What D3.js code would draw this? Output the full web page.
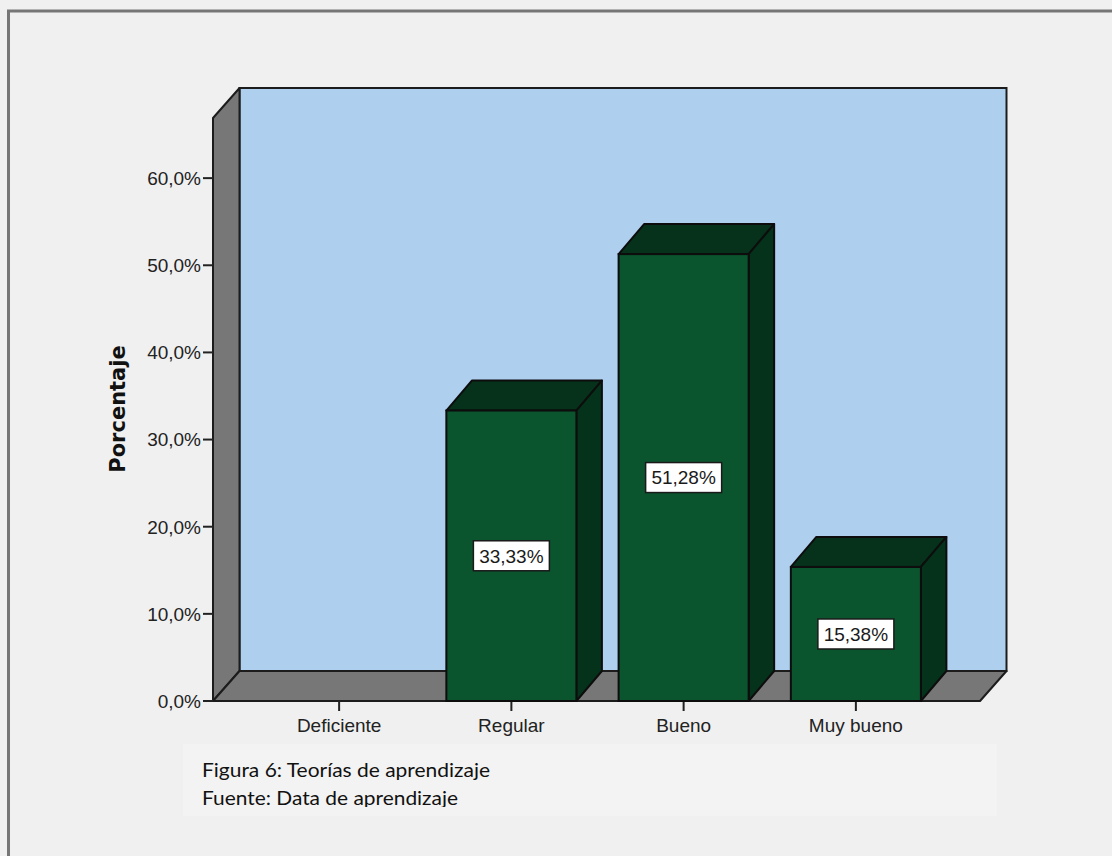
<!DOCTYPE html>
<html>
<head>
<meta charset="utf-8">
<script src="https://cdn.jsdelivr.net/npm/d3@7"></script>
<style>
  html, body { margin: 0; padding: 0; background: #f0f0f0; }
  svg { display: block; }
</style>
</head>
<body>
<svg id="chart" width="1112" height="856"></svg>
<script>
// ---- data ----
const categories = ["Deficiente", "Regular", "Bueno", "Muy bueno"];
const percentages = [0, 33.33, 51.28, 15.38];
const yTickValues = [0, 10, 20, 30, 40, 50, 60];
const yTitle = "Porcentaje";
const captionLines = ["Figura 6: Teorías de aprendizaje", "Fuente: Data de aprendizaje"];

// ---- layout ----
const W = 1112, H = 856;
const front = { left: 213, right: 980, bottom: 701, top: 118 };
const depth = { dx: 26.5, dy: -30 };
const yMax = 66.9;

const esLocale = d3.formatLocale({ decimal: ",", thousands: ".", grouping: [3], currency: ["", " €"] });
const fmtTick = v => esLocale.format(".1f")(v) + "%";
const fmtVal = v => esLocale.format(".2f")(v) + "%";

const svg = d3.select("#chart");

// outer frame
svg.append("rect").attr("x", 0).attr("y", 0).attr("width", W).attr("height", H).attr("fill", "#f0f0f0");
svg.append("rect").attr("x", 8.5).attr("y", 11).attr("width", 1300).attr("height", 1100)
  .attr("fill", "none").attr("stroke", "#767676").attr("stroke-width", 3);

const y = d3.scaleLinear().domain([0, yMax]).range([front.bottom, front.top]);
const x = d3.scaleBand().domain(categories).range([253, 942]).paddingInner(0.245).paddingOuter(0.1225);

const wallStroke = "#1c1c1c";
const g = svg.append("g");

// back wall
const bx0 = front.left + depth.dx, bx1 = front.right + depth.dx;
const by0 = y(yMax) + depth.dy, by1 = y(0) + depth.dy;
g.append("rect").attr("x", bx0).attr("y", by0).attr("width", bx1 - bx0).attr("height", by1 - by0)
  .attr("fill", "#aecfee").attr("stroke", wallStroke).attr("stroke-width", 2);

// left wall
g.append("polygon").attr("points", [
  [front.left, y(yMax)], [bx0, by0], [bx0, by1], [front.left, y(0)]
].map(p => p.join(",")).join(" "))
  .attr("fill", "#777777").attr("stroke", wallStroke).attr("stroke-width", 2).attr("stroke-linejoin", "round");

// floor
g.append("polygon").attr("points", [
  [front.left, y(0)], [bx0, by1], [bx1, by1], [front.right, y(0)]
].map(p => p.join(",")).join(" "))
  .attr("fill", "#777777").attr("stroke", wallStroke).attr("stroke-width", 2).attr("stroke-linejoin", "round");

// y axis ticks & labels
const yAxis = svg.append("g");
yTickValues.forEach(v => {
  yAxis.append("line").attr("x1", front.left - 10).attr("x2", front.left)
    .attr("y1", y(v)).attr("y2", y(v)).attr("stroke", "#222").attr("stroke-width", 2);
  yAxis.append("text").attr("x", front.left - 12).attr("y", y(v)).attr("dy", "0.36em")
    .attr("text-anchor", "end").attr("font-family", "Liberation Sans, Arial, sans-serif")
    .attr("font-size", 19).attr("fill", "#222").text(fmtTick(v));
});

// y title
svg.append("text")
  .attr("transform", `translate(125,409) rotate(-90)`)
  .attr("text-anchor", "middle")
  .attr("font-family", "DejaVu Sans, Verdana, sans-serif")
  .attr("font-weight", "bold").attr("font-size", 21).attr("fill", "#111")
  .text(yTitle);

// x ticks & labels
const xAxis = svg.append("g");
categories.forEach(c => {
  const cx = x(c) + x.bandwidth() / 2;
  xAxis.append("line").attr("x1", cx).attr("x2", cx).attr("y1", front.bottom).attr("y2", front.bottom + 10)
    .attr("stroke", "#222").attr("stroke-width", 2);
  xAxis.append("text").attr("x", cx).attr("y", 732).attr("text-anchor", "middle")
    .attr("font-family", "Liberation Sans, Arial, sans-serif")
    .attr("font-size", 19).attr("fill", "#222").text(c);
});

// bars
const bars = svg.append("g");
const barStroke = "#0d0d0d";
categories.forEach((c, i) => {
  const v = percentages[i];
  if (!(v > 0)) return;
  const x0 = x(c), x1 = x0 + x.bandwidth();
  const yt = y(v), yb = y(0);
  const dx = depth.dx - 1, dy = depth.dy;
  const bg = bars.append("g");
  // top
  bg.append("polygon").attr("points", [[x0, yt], [x0 + dx, yt + dy], [x1 + dx, yt + dy], [x1, yt]].map(p => p.join(",")).join(" "))
    .attr("fill", "#06311b").attr("stroke", barStroke).attr("stroke-width", 2).attr("stroke-linejoin", "round");
  // side
  bg.append("polygon").attr("points", [[x1, yt], [x1 + dx, yt + dy], [x1 + dx, yb + dy], [x1, yb]].map(p => p.join(",")).join(" "))
    .attr("fill", "#04321a").attr("stroke", barStroke).attr("stroke-width", 2).attr("stroke-linejoin", "round");
  // front
  bg.append("rect").attr("x", x0).attr("y", yt).attr("width", x1 - x0).attr("height", yb - yt)
    .attr("fill", "#0a552e").attr("stroke", barStroke).attr("stroke-width", 2);
  // label
  const cx = (x0 + x1) / 2, cy = (yt + yb) / 2;
  bg.append("rect").attr("x", cx - 38).attr("y", cy - 15).attr("width", 76).attr("height", 30)
    .attr("fill", "#ffffff").attr("stroke", "#1a1a1a").attr("stroke-width", 1.5);
  bg.append("text").attr("x", cx).attr("y", cy).attr("dy", "0.36em").attr("text-anchor", "middle")
    .attr("font-family", "Liberation Sans, Arial, sans-serif").attr("font-size", 19).attr("fill", "#1a1a1a")
    .text(fmtVal(v));
});

// caption box
const defs = svg.append("defs");
defs.append("clipPath").attr("id", "capclip").append("rect")
  .attr("x", 183).attr("y", 744).attr("width", 814).attr("height", 63);
svg.append("rect").attr("x", 183).attr("y", 744).attr("width", 814).attr("height", 72).attr("fill", "#f3f3f3");
const cap = svg.append("g").attr("clip-path", "url(#capclip)");
const capLens = [288, 256];
captionLines.forEach((t, i) => {
  cap.append("text").attr("x", 202).attr("y", 777 + i * 28)
    .attr("font-family", "Lato, Open Sans, sans-serif").attr("font-size", 20).attr("fill", "#111")
    .attr("textLength", capLens[i]).attr("lengthAdjust", "spacingAndGlyphs")
    .text(t);
});
</script>
</body>
</html>
